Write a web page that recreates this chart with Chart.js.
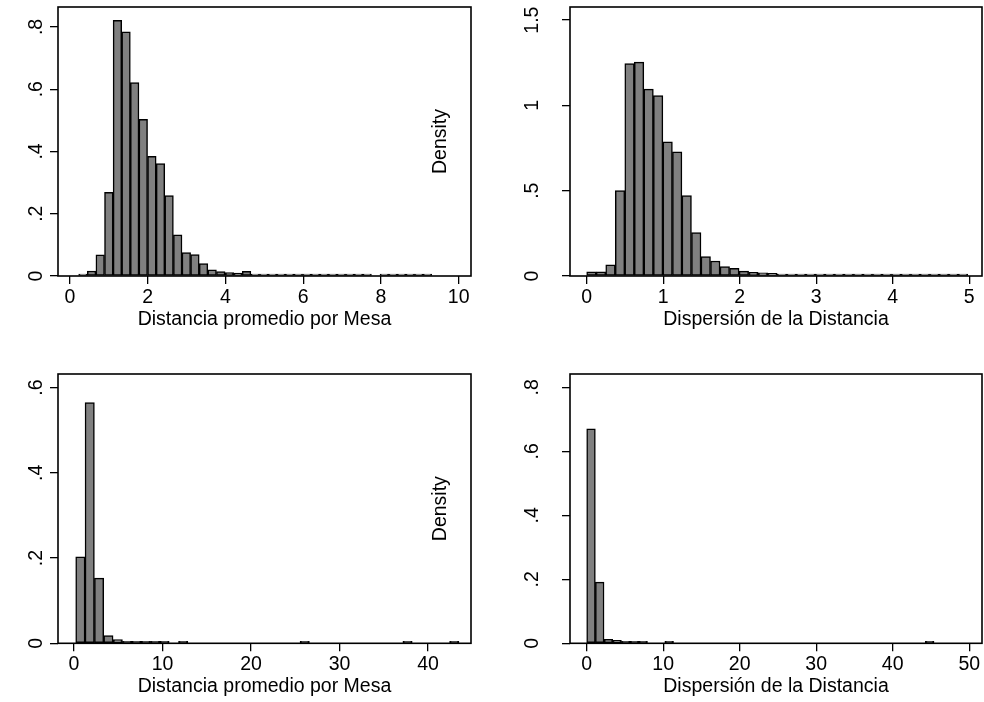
<!DOCTYPE html>
<html>
<head>
<meta charset="utf-8">
<script src="https://cdn.jsdelivr.net/npm/chart.js@4.4.1/dist/chart.umd.min.js"></script>
<style>
body{margin:0;background:#fff}
#wrap{position:relative;width:984px;height:702px;overflow:hidden;background:#fff}
canvas{position:absolute}
</style>
</head>
<body>
<div id="wrap">
<canvas id="c1" width="480" height="345" style="left:0;top:0"></canvas>
<canvas id="c3" width="480" height="352" style="left:0;top:350px"></canvas>
<canvas id="c2" width="564" height="345" style="left:420px;top:0"></canvas>
<canvas id="c4" width="564" height="352" style="left:420px;top:350px"></canvas>
</div>
<script>
// histogram bins: first bin edge + bin width, densities
const MESA_START = 0.223, MESA_WIDTH = 0.2215;
const MESA_DENSITY = [0.004,0.016,0.068,0.269,0.821,0.784,0.621,0.503,0.384,0.361,0.258,0.132,0.075,0.069,0.040,0.020,0.014,0.011,0.009,0.015,0.005,0.004,0.002,0.002,0.002,0.002,0.004,0.002,0.002,0.002,0.001,0.002,0.001,0.001,null,0.001,0.001,0.001,0.001,0.001,0.001];
const MESA_XTICKS = [0,2,4,6,8,10];
const MESA_YTICKS = [0,.2,.4,.6,.8];

const DISP_START = 0, DISP_WIDTH = 0.1245;
const DISP_DENSITY = [0.025,0.025,0.065,0.501,1.245,1.254,1.096,1.057,0.787,0.728,0.472,0.254,0.114,0.088,0.055,0.045,0.029,0.021,0.019,0.016,0.008,0.005,0.007,0.004,0.004,0.003,0.003,0.002,0.005,0.003,0.004,0.003,0.002,0.002,0.002,0.001,0.001,0.001,0.001,0.001];
const DISP_XTICKS = [0,1,2,3,4,5];
const DISP_YTICKS = [0,.5,1,1.5];

const MESA_ALL_START = 0.19, MESA_ALL_WIDTH = 1.0563;
const MESA_ALL_DENSITY = [0.203,0.565,0.153,0.018,0.0086,0.004,0.004,0.002,0.001,0.001,null,0.001,null,null,null,null,null,null,null,null,null,null,null,null,0.0005,null,null,null,null,null,null,null,null,null,null,0.0005,null,null,null,null,0.0005];
const MESA_ALL_XTICKS = [0,10,20,30,40];
const MESA_ALL_YTICKS = [0,.2,.4,.6];

const DISP_ALL_START = 0, DISP_ALL_WIDTH = 1.135;
const DISP_ALL_DENSITY = [0.670,0.191,0.0125,0.009,0.005,0.003,0.002,null,null,0.001,null,null,null,null,null,null,null,null,null,null,null,null,null,null,null,null,null,null,null,null,null,null,null,null,null,null,null,null,null,0.0005];
const DISP_ALL_XTICKS = [0,10,20,30,40,50];
const DISP_ALL_YTICKS = [0,.2,.4,.6,.8];

const FONT = {family:'"Liberation Sans", Arial, sans-serif', size:19.5};
const stataLabel = v => { const s = String(Math.round(v*100)/100); return s.startsWith('0.') ? s.slice(1) : s; };

const framePlugin = {
  id:'frame',
  afterDraw(chart){
    const {ctx, chartArea:a} = chart;
    ctx.save(); ctx.strokeStyle='#000'; ctx.lineWidth=1.6;
    ctx.strokeRect(a.left, a.top, a.right-a.left, a.bottom-a.top);
    ctx.restore();
  }
};

function histo(id, p){
  const data = p.values.map((v,i)=>({x: p.start + (i+0.5)*p.width, y: v}));
  const grid = {display:true, drawOnChartArea:false, drawTicks:true, tickLength:8, tickColor:'#000', lineWidth:1.3, offset:false};
  new Chart(document.getElementById(id), {
    type:'bar',
    data:{datasets:[{data, backgroundColor:'#808080', borderColor:'#000', borderWidth:1.5, borderSkipped:false,
      barPercentage:1, categoryPercentage:1, minBarLength:2}]},
    options:{
      responsive:false, animation:false, devicePixelRatio:1,
      layout:{padding:p.pad},
      plugins:{legend:{display:false}, tooltip:{enabled:false}},
      scales:{
        x:{type:'linear', min:p.xmin, max:p.xmax, offset:false,
          afterBuildTicks:s=>{ s.ticks = p.xticks.map(v=>({value:v})); },
          afterFit:s=>{ s.height = p.xh; s.paddingLeft = 0; s.paddingRight = 0; },
          grid, border:{display:false},
          ticks:{color:'#000', font:FONT, padding:2, maxRotation:0, autoSkip:false, callback:v=>String(v)},
          title:{display:true, text:p.xtitle, color:'#000', font:FONT, padding:{top:0, bottom:p.tpb}}},
        y:{type:'linear', min:0, max:p.ymax,
          afterBuildTicks:s=>{ s.ticks = p.yticks.map(v=>({value:v})); },
          afterFit:s=>{ s.width = p.yw; s.paddingTop = 0; s.paddingBottom = 0; },
          grid, border:{display:false},
          ticks:{color:'#000', font:FONT, padding:p.ypad, minRotation:90, maxRotation:90, crossAlign:'center', autoSkip:false, callback:stataLabel},
          title:{display:!!p.ytitle, text:p.ytitle||'', color:'#000', font:FONT, padding:{top:9.3, bottom:0}}}
      }
    },
    plugins:[framePlugin]
  });
}

histo('c1', {values:MESA_DENSITY, start:MESA_START, width:MESA_WIDTH, xticks:MESA_XTICKS, yticks:MESA_YTICKS,
  xmin:-0.309, xmax:10.316, ymax:0.864, pad:{top:7,left:0,right:9,bottom:0}, yw:58, xh:69, ypad:5.2, tpb:14.1,
  xtitle:'Distancia promedio por Mesa'});
histo('c2', {values:DISP_DENSITY, start:DISP_START, width:DISP_WIDTH, xticks:DISP_XTICKS, yticks:DISP_YTICKS,
  xmin:-0.218, xmax:5.167, ymax:1.577, pad:{top:7,left:0,right:2,bottom:0}, yw:150, xh:69, ypad:15.4, tpb:14.1,
  xtitle:'Dispersión de la Distancia', ytitle:'Density'});
histo('c3', {values:MESA_ALL_DENSITY, start:MESA_ALL_START, width:MESA_ALL_WIDTH, xticks:MESA_ALL_XTICKS, yticks:MESA_ALL_YTICKS,
  xmin:-1.81, xmax:44.86, ymax:0.632, pad:{top:24,left:0,right:9,bottom:0}, yw:58, xh:58.7, ypad:5.2, tpb:4.1,
  xtitle:'Distancia promedio por Mesa'});
histo('c4', {values:DISP_ALL_DENSITY, start:DISP_ALL_START, width:DISP_ALL_WIDTH, xticks:DISP_ALL_XTICKS, yticks:DISP_ALL_YTICKS,
  xmin:-2.18, xmax:51.67, ymax:0.8416, pad:{top:24,left:0,right:2,bottom:0}, yw:150, xh:58.7, ypad:20.9, tpb:4.1,
  xtitle:'Dispersión de la Distancia', ytitle:'Density'});
</script>
</body>
</html>
